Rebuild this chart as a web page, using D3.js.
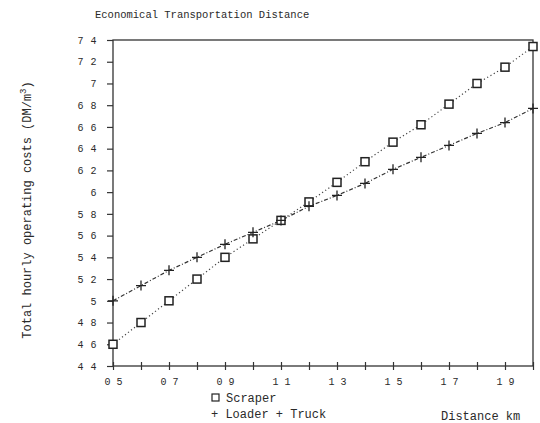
<!DOCTYPE html>
<html>
<head>
<meta charset="utf-8">
<title>economical transportation distance</title>
<script src="https://d3js.org/d3.v7.min.js"></script>
<style>
body{
	margin:0;
	background:#fff;
}
svg text{
	font-family: "Liberation Mono", "DejaVu Sans Mono", monospace;
	fill:#2a2a2a;
}
.frame{
	fill:none;
	stroke:#333;
	stroke-width:1.3;
}
.tick line{
	stroke:#333;
	stroke-width:1.2;
}
</style>
</head>
<body>
<svg class="chart"></svg>

<script>
// distances (km) and costs
var distance = [0.5, 0.6, 0.7, 0.8, 0.9, 1.0, 1.1, 1.2, 1.3, 1.4, 1.5, 1.6, 1.7, 1.8, 1.9, 2.0];
var scraper = [4.6, 4.8, 5.0, 5.2, 5.4, 5.57, 5.74, 5.91, 6.09, 6.28, 6.46, 6.62, 6.81, 7.0, 7.15, 7.34];
var loaderTruck = [5.0, 5.14, 5.28, 5.40, 5.52, 5.63, 5.74, 5.87, 5.97, 6.08, 6.21, 6.32, 6.43, 6.54, 6.64, 6.77];

// tick values and the labels as printed (decimal points lost in the print)
var xTicks = [0.5, 0.6, 0.7, 0.8, 0.9, 1.0, 1.1, 1.2, 1.3, 1.4, 1.5, 1.6, 1.7, 1.8, 1.9, 2.0];
var xLabels = {"0.5": "0 5", "0.7": "0 7", "0.9": "0 9", "1.1": "1 1", "1.3": "1 3", "1.5": "1 5", "1.7": "1 7", "1.9": "1 9"};
var yTicks = [4.4, 4.6, 4.8, 5.0, 5.2, 5.4, 5.6, 5.8, 6.0, 6.2, 6.4, 6.6, 6.8, 7.0, 7.2, 7.4];
var yLabels = ["4 4", "4 6", "4 8", "5", "5 2", "5 4", "5 6", "5 8", "6", "6 2", "6 4", "6 6", "6 8", "7", "7 2", "7 4"];

var width = 540,
	height = 423;
var margin = {top: 40, right: 7, bottom: 57, left: 113};
var plotW = width - margin.left - margin.right;
var plotH = height - margin.top - margin.bottom;

var svg = d3.select(".chart")
	.attr("width", width)
	.attr("height", height);

var g = svg.append("g")
	.attr("transform", "translate(" + margin.left + "," + margin.top + ")");

var x = d3.scaleLinear()
	.domain([0.5, 2.0])
	.range([0, plotW]);

var y = d3.scaleLinear()
	.domain([4.4, 7.4])
	.range([plotH, 0]);

// box round the plot
g.append("rect")
	.attr("class", "frame")
	.attr("x", 0)
	.attr("y", 0)
	.attr("width", plotW)
	.attr("height", plotH);

// y axis, ticks outward
var yAxis = d3.axisLeft(y)
	.tickValues(yTicks)
	.tickSize(6)
	.tickPadding(10)
	.tickFormat(function(d, i){ return yLabels[i]; });

var yG = g.append("g").call(yAxis);
yG.select(".domain").remove();
yG.selectAll("text")
	.style("font-size", "10px")
	.style("letter-spacing", "0.5px");

// x axis, ticks crossing the line
var xAxis = d3.axisBottom(x)
	.tickValues(xTicks)
	.tickSize(4)
	.tickPadding(8)
	.tickFormat(function(d){ return xLabels[d.toFixed(1)] || ""; });

var xG = g.append("g")
	.attr("transform", "translate(0," + plotH + ")")
	.call(xAxis);
xG.select(".domain").remove();
xG.selectAll(".tick line").attr("y1", -4);
xG.selectAll("text")
	.style("font-size", "10px");

// lines
var line = d3.line()
	.x(function(d, i){ return x(distance[i]); })
	.y(function(d){ return y(d); });

g.append("path")
	.datum(scraper)
	.attr("d", line)
	.attr("fill", "none")
	.attr("stroke", "#444")
	.attr("stroke-width", 1.2)
	.attr("stroke-dasharray", "1.2,2.6");

g.append("path")
	.datum(loaderTruck)
	.attr("d", line)
	.attr("fill", "none")
	.attr("stroke", "#333")
	.attr("stroke-width", 1.2)
	.attr("stroke-dasharray", "4,2,1,2");

// scraper markers (squares)
var sq = 8;
g.selectAll(".sq")
	.data(scraper)
	.enter()
	.append("rect")
	.attr("class", "sq")
	.attr("x", function(d, i){ return x(distance[i]) - sq / 2; })
	.attr("y", function(d){ return y(d) - sq / 2; })
	.attr("width", sq)
	.attr("height", sq)
	.attr("fill", "#fff")
	.attr("stroke", "#222")
	.attr("stroke-width", 1.5);

// loader + truck markers (plus)
var pl = 5;
g.selectAll(".pl")
	.data(loaderTruck)
	.enter()
	.append("path")
	.attr("class", "pl")
	.attr("d", function(d, i){
		var cx = x(distance[i]), cy = y(d);
		return "M" + (cx - pl) + "," + cy + "H" + (cx + pl) + "M" + cx + "," + (cy - pl) + "V" + (cy + pl);
	})
	.attr("stroke", "#222")
	.attr("stroke-width", 1.3);

// title
svg.append("text")
	.attr("x", 95)
	.attr("y", 18)
	.style("font-size", "10.5px")
	.text("Economical Transportation Distance");

// y label
var yl = svg.append("text")
	.attr("transform", "translate(31,210) rotate(-90)")
	.attr("text-anchor", "middle")
	.style("font-size", "12px");
yl.append("tspan").text("Total hourly operating costs (DM/m");
yl.append("tspan").attr("dy", -5).style("font-size", "9px").text("3");
yl.append("tspan").attr("dy", 5).text(")");

// legend
svg.append("rect")
	.attr("x", 212)
	.attr("y", 394)
	.attr("width", 7)
	.attr("height", 7)
	.attr("fill", "#fff")
	.attr("stroke", "#222")
	.attr("stroke-width", 1.2);

svg.append("text")
	.attr("x", 226)
	.attr("y", 402)
	.style("font-size", "12px")
	.text("Scraper");

svg.append("text")
	.attr("x", 211)
	.attr("y", 418)
	.style("font-size", "12px")
	.text("+ Loader + Truck");

svg.append("text")
	.attr("x", 441)
	.attr("y", 420)
	.style("font-size", "12px")
	.text("Distance km");
</script>
</body>
</html>
